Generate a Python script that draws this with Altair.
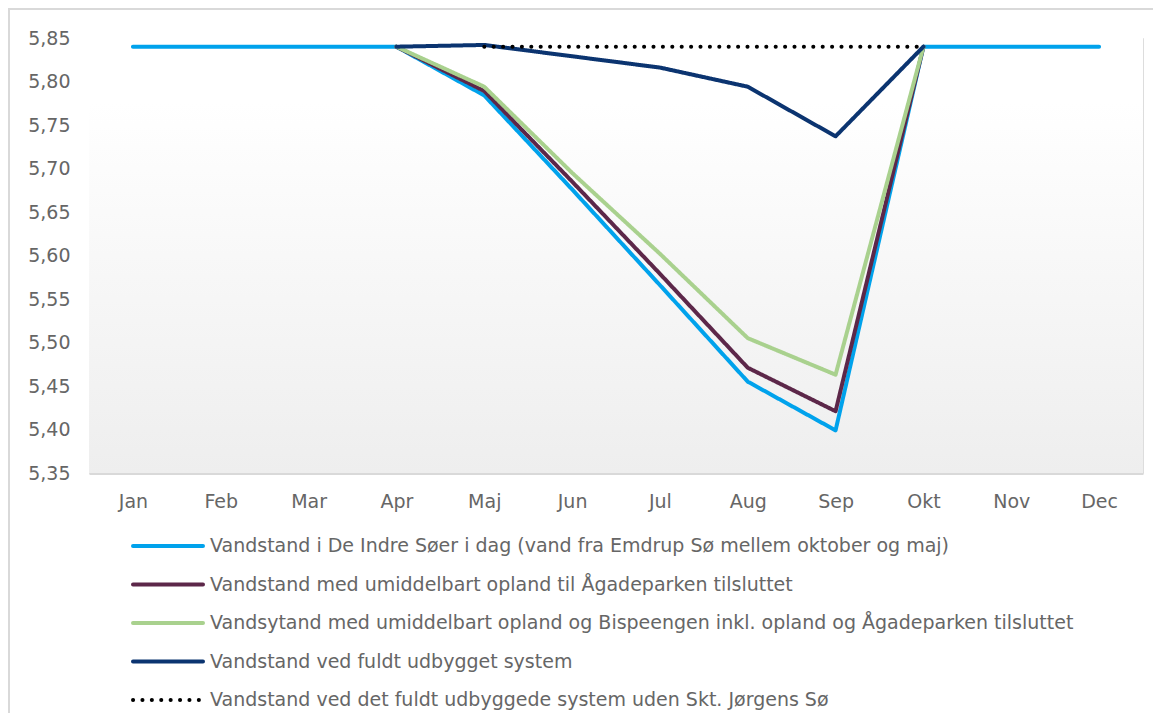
import altair as alt
import pandas as pd

months = ["Jan", "Feb", "Mar", "Apr", "Maj", "Jun", "Jul", "Aug", "Sep", "Okt", "Nov", "Dec"]

series_names = [
    "Vandstand i De Indre Søer i dag (vand fra Emdrup Sø mellem oktober og maj)",
    "Vandstand med umiddelbart opland til Ågadeparken tilsluttet",
    "Vandsytand med umiddelbart opland og Bispeengen inkl. opland og Ågadeparken tilsluttet",
    "Vandstand ved fuldt udbygget system",
    "Vandstand ved det fuldt udbyggede system uden Skt. Jørgens Sø",
]
colors = ["#00A2EC", "#5C2749", "#A9D18E", "#0B3470", "#000000"]
dashes = [[1, 0], [1, 0], [1, 0], [1, 0], [0.1, 9.3]]

# values per month (None = not drawn)
s_today = [5.84, 5.84, 5.84, 5.84, 5.784, 5.676, 5.566, 5.455, 5.399, 5.84, 5.84, 5.84]
s_agade = [None, None, None, 5.84, 5.789, 5.685, 5.579, 5.471, 5.421, 5.84, None, None]
s_bispe = [None, None, None, 5.84, 5.794, 5.695, 5.602, 5.505, 5.463, 5.84, None, None]
s_full = [None, None, None, 5.84, 5.842, 5.829, 5.816, 5.794, 5.737, 5.84, None, None]
s_noskt = [None, None, None, None, 5.84, 5.84, 5.84, 5.84, 5.84, 5.84, None, None]

y_ticks = [5.35, 5.40, 5.45, 5.50, 5.55, 5.60, 5.65, 5.70, 5.75, 5.80, 5.85]

rows = []
for name, vals in zip(series_names, [s_today, s_agade, s_bispe, s_full, s_noskt]):
    for m, v in zip(months, vals):
        if v is not None:
            rows.append({"month": m, "series": name, "value": v})
df = pd.DataFrame(rows)
legend_df = pd.DataFrame({"series": series_names})

W, H = 1054, 435
FONT = "DejaVu Sans"
GREY = "#666666"

gradient = {
    "x1": 0, "y1": 0, "x2": 0, "y2": 1, "gradient": "linear",
    "stops": [
        {"offset": 0, "color": "#ffffff"},
        {"offset": 0.15, "color": "#ffffff"},
        {"offset": 1, "color": "#eeeeee"},
    ],
}

bg = alt.Chart(pd.DataFrame({"a": [0]})).mark_rect(color=gradient).encode(
    x=alt.value(0), x2=alt.value(W), y=alt.value(0), y2=alt.value(H)
)

frame = alt.Chart(pd.DataFrame({"a": [0]})).mark_rect(
    fill=None, stroke="#d9d9d9", strokeWidth=2
).encode(
    x=alt.value(-80), x2=alt.value(W + 60), y=alt.value(-29), y2=alt.value(H + 400)
)

color_enc = alt.Color("series:N", sort=series_names,
                      scale=alt.Scale(domain=series_names, range=colors), legend=None)
dash_enc = alt.StrokeDash("series:N", sort=series_names,
                          scale=alt.Scale(domain=series_names, range=dashes), legend=None)

lines = alt.Chart(df).mark_line(strokeWidth=4, strokeJoin="round", strokeCap="round").encode(
    x=alt.X("month:N", sort=months, scale=alt.Scale(type="point", padding=0.5, domain=months),
            axis=alt.Axis(title=None, grid=True, gridColor="#dcdcdc", gridWidth=1.5,
                          domainColor="#d9d9d9", domainWidth=3, ticks=False,
                          labelFont=FONT, labelFontSize=19, labelColor=GREY,
                          labelPadding=19, labelAngle=0)),
    y=alt.Y("value:Q", scale=alt.Scale(domain=[5.35, 5.85], nice=False, zero=False),
            axis=alt.Axis(title=None, values=y_ticks, grid=False, domain=False, ticks=False,
                          labelFont=FONT, labelFontSize=19, labelColor=GREY, labelPadding=19,
                          labelExpr="replace(format(datum.value, '.2f'), '.', ',')")),
    color=color_enc,
    strokeDash=dash_enc,
    detail="series:N",
)

leg_y = alt.Y("series:N", sort=series_names,
              scale=alt.Scale(type="point", domain=series_names, range=[508, 662], padding=0),
              axis=None)

leg_sym = alt.Chart(legend_df).mark_rule(strokeWidth=4, strokeCap="round").encode(
    x=alt.value(44), x2=alt.value(114), y=leg_y, color=color_enc, strokeDash=dash_enc
)
leg_txt = alt.Chart(legend_df).mark_text(
    align="left", baseline="middle", font=FONT, fontSize=19, color=GREY
).encode(x=alt.value(121), y=leg_y, text="series:N")

legend = alt.layer(leg_sym, leg_txt)

chart = alt.layer(frame, bg, lines, legend).resolve_scale(y="independent").properties(
    width=W, height=H,
    autosize=alt.AutoSizeParams(type="none"),
    padding={"left": 81, "top": 30, "right": 10, "bottom": 240},
).configure_view(stroke=None).configure(background="#ffffff")

chart.save("out.html", embed_options={"renderer": "svg", "actions": False})
